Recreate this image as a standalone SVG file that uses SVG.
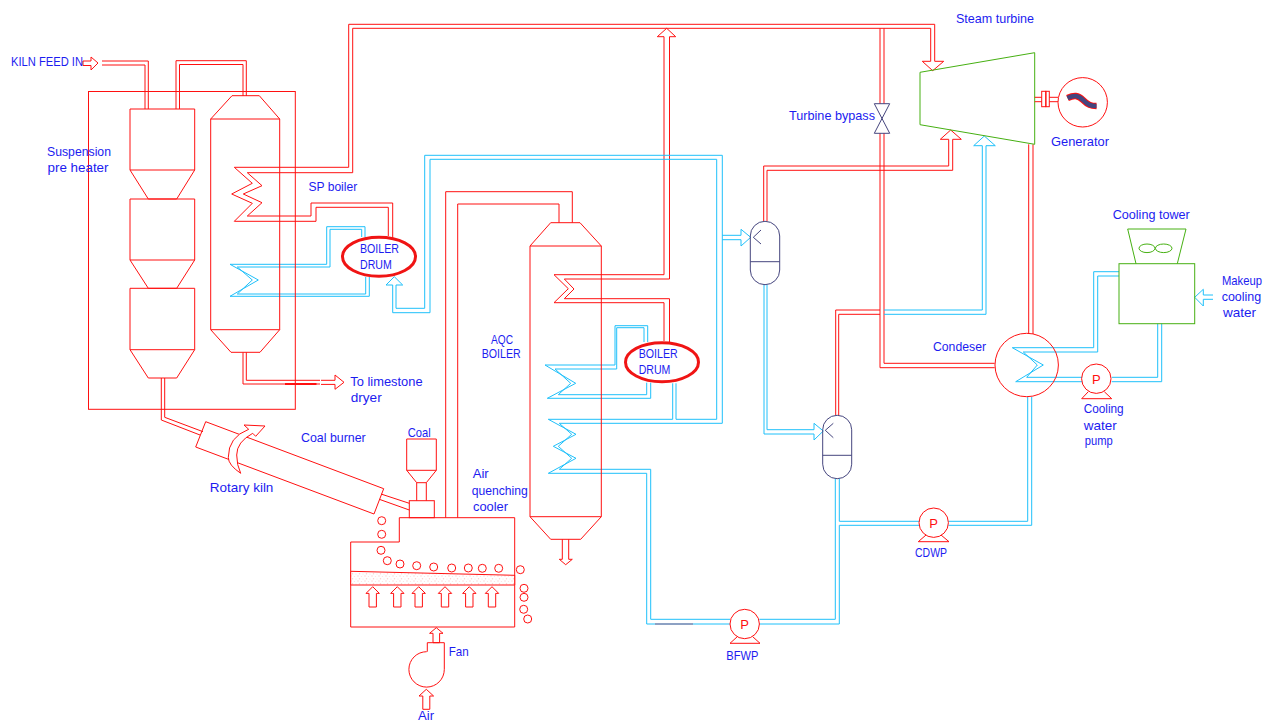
<svg xmlns="http://www.w3.org/2000/svg" width="1266" height="722" viewBox="0 0 1266 722">
<style>
.r,.b,.g,.n{fill:none;stroke-width:1;stroke-linejoin:miter}
.r{stroke:#ff1010}.b{stroke:#1fc0fa}.g{stroke:#46b012}.n{stroke:#45457e}
text{font-family:"Liberation Sans",Arial,sans-serif;font-size:13px;fill:#1c1cf0;stroke:none}
text.p{fill:#ff1010;font-size:13px;text-anchor:middle}
</style>
<defs>
<pattern id="speck" width="7" height="5" patternUnits="userSpaceOnUse">
<rect width="7" height="5" fill="#fff"/>
<circle cx="1" cy="1" r=".7" fill="#fdd0d0"/><circle cx="4.5" cy="1.5" r=".6" fill="#fee0e0"/><circle cx="2.5" cy="3.8" r=".7" fill="#fdd0d0"/><circle cx="6" cy="4" r=".6" fill="#fee0e0"/>
</pattern>
<path id="up" d="M0,0 L6.7,6.7 H3.7 V20.3 H-3.7 V6.7 H-6.7 Z"/>
<circle id="ball" r="4"/>
</defs>
<rect width="1266" height="722" fill="#fff"/>
<g id="connectors">
<g class="r">
<path d="M102,61 H148.3 V109"/><path d="M102,65 H145 V109"/>
<path d="M176,109 V60.7 H246.3 V96"/><path d="M179.5,109 V64.5 H243 V96"/>
<path d="M348.7,167.3 V24.3 H934.7 V61.3"/>
<path d="M352.7,172.7 V28.3 H930.7 V61.3"/>
<path d="M348.7,167.3 H234.3 L252.3,183.3 L231.7,194 L252.3,203.3 L234.3,221.3 H316 V207.3 H388.3 V236"/>
<path d="M352.7,172.7 H247.3 L262,185.7 L243.3,194 L262,202.7 L247.3,216 H311 V203 H392.7 V238"/>
<path d="M664,36.7 V274.7 H554 L568.3,288.7 L554,302.7 H664 V341"/>
<path d="M669.5,36.7 V279 H564.3 L574,289 L564.3,298.7 H669.5 V342"/>
<path d="M445.7,517.7 V191.7 H572.3 V222.7"/><path d="M457.7,517.7 V204 H559 V222.7"/>
<path d="M243,352.3 V384 H285"/><path d="M246.3,352.3 V380.3 H320"/><path d="M316.7,384 H320"/>
<path d="M285,384 H316.7" stroke-width="2"/>
<path d="M161.3,378 V420 L200,435"/><path d="M164.7,378 V417.3 L203,431.7"/>
<path d="M381,494 L409.3,503.3"/><path d="M379.3,499.3 L409.3,510"/>
<path d="M763.7,221.3 V166 H948.7 V139.3"/><path d="M767,221.3 V170.3 H952.7 V139.3"/>
<path d="M880,28.3 V103.7"/><path d="M884,28.3 V103.7"/>
<path d="M880,133.3 V367.7 H994.7"/><path d="M884,133.3 V363.3 H994.7"/>
<path d="M835.7,415.3 V310 H880"/><path d="M838.7,415.3 V314.3 H880"/>
<path d="M1028.7,144.3 V334"/><path d="M1033,144.3 V334"/>
</g>
<g class="b">
<path d="M230,264.3 H326.7 V226.7 H365 V237"/><path d="M237.3,267 H330 V229.3 H361.7 V237"/>
<path d="M230,264.3 L258.3,280 L230,296.3 H369.3 V277"/><path d="M237.3,267 L252.3,280 L237.3,294 H365.7 V277"/>
<path d="M676,383.3 V419.3 H716.7 V159.3 H430 V312.7 H392.7 V285"/>
<path d="M672.7,383.3 V419.3 H548.3 L576,434.3 L553.3,446.3 L576,458.3 L548.3,473.3 H646.7 V624 H730"/>
<path d="M559.3,423.3 H722.3 V155.3 H424.7 V308.3 H396 V285"/>
<path d="M559.3,423.3 L571.7,434.3 L558.3,446.3 L571.7,458.3 L559.3,469.3 H650.7 V619.3 H730"/>
<path d="M545,365 H615 V325.7 H647.7 V342"/><path d="M555,369 H616.7 V327.7 H644 V342"/>
<path d="M545,365 L575.7,383.3 L547.3,398.3 H650.7 V382.7"/><path d="M555,369 L570.7,383.3 L558.3,394.7 H646.7 V382.7"/>
<path d="M722.3,235.3 H741"/><path d="M722.3,239.7 H741"/>
<path d="M764,284.7 V434 H814"/><path d="M767,284.7 V429.7 H814"/>
<path d="M884,310 H982.3 V145.7"/><path d="M884,314.3 H986 V145.7"/>
<path d="M759.4,619.3 H835.3 V478.7"/><path d="M759.4,624 H839.3 V525.3 H919"/>
<path d="M839.3,478.7 V521.3 H919.5"/>
<path d="M948.4,521.3 H1027.7 V397"/><path d="M948.4,525.3 H1031.7 V397"/>
<path d="M1012.3,347.7 L1043.3,365 L1015.7,381.7 H1082"/><path d="M1023.3,352 L1037.3,365 L1026.7,377.3 H1082"/>
<path d="M1012.3,347.7 H1093.7 V271.7 H1119"/><path d="M1023.3,352 H1097.7 V276 H1119"/>
<path d="M1111.7,377.3 H1157.7 V323.7"/><path d="M1111.7,381.7 H1161.7 V323.7"/>
<path d="M1203.3,295 H1213"/><path d="M1203.3,299.3 H1213"/>
<path d="M655,624 H693" stroke="#8c8cb0" stroke-width="1.5"/>
</g>
<g id="arrowheads">
<path class="r" d="M83,61 H91 V57 L98,63 L91,70 V65.5 H83 Z"/>
<path class="r" d="M664,36.7 H657.3 L666.7,28.3 L675.7,36.7 H669.5"/>
<path class="r" d="M930.7,61.3 H922.3 L932.7,70.7 L943.7,61.3 H934.7"/>
<path class="r" d="M948.7,139.3 H940.3 L950.7,130 L961.3,139.3 H952.7"/>
<path class="r" d="M321,380.3 H335 V375 L344,382.3 L335,389.3 V384.4 H321"/>
<path class="r" d="M562.3,539.3 V559.3 H559.3 L565.7,564.7 L572.3,559.3 H568.7 V539.3"/>
<path class="b" d="M392.7,285 H386 L394.3,276.7 L402.7,285 H396"/>
<path class="b" d="M741,235.3 V229.3 L750.7,237.3 L741,246 V239.7"/>
<path class="b" d="M814,429.7 V423.3 L823.3,431 L814,440 V434"/>
<path class="b" d="M982.3,145.7 H973.7 L984.3,136 L995.3,145.7 H986"/>
<path class="b" d="M1203.3,295 V289.3 L1194.7,297.3 L1203.3,306 V299.3"/>
</g>
</g>
<g id="suspension-preheater-frame"><rect class="r" x="88.5" y="91.5" width="206.8" height="317.8"/></g>
<g id="preheater-cyclones" class="r">
<path d="M130,109 H194.7 V170 L176.7,199 H148.3 L130,170 Z M130,170 H194.7"/>
<path d="M130,199 H194.7 V260 L176.7,288.3 H148.3 L130,260 Z M130,260 H194.7"/>
<path d="M130,288.3 H194.7 V349.7 L176.7,378 H148.3 L130,349.7 Z M130,349.7 H194.7"/>
</g>
<g id="sp-boiler" class="r"><path d="M210.7,119 L232,95.7 H259.3 L279.7,119 V329.7 L260,352.3 H231 L210.7,329.7 Z M210.7,119 H279.7 M210.7,329.7 H279.7"/></g>
<g id="boiler-drum-1"><ellipse cx="379" cy="256.7" rx="36.5" ry="19.5" fill="none" stroke="#f01414" stroke-width="3"/></g>
<g id="aqc-boiler" class="r"><path d="M530,246 L550.7,222.7 H580 L601.3,246 V516.7 L580.7,539.3 H550.7 L530,516.7 Z M530,246 H601.3 M530,516.7 H601.3"/></g>
<g id="boiler-drum-2"><ellipse cx="662" cy="362.2" rx="36.5" ry="19.5" fill="none" stroke="#f01414" stroke-width="3"/></g>
<g id="rotary-kiln" class="r">
<path d="M205.7,421.7 L383.7,488.7 L374,514 L195.7,447 Z"/>
<path d="M244,425 L265,426 L255.7,436.3 L252.7,433.3 Q236.7,442 236.7,455 Q236.7,465 240.7,473.3 Q228.3,465 228.3,457.3 Q228.3,437 248.7,429.3 Z" style="fill:#fff"/>
</g>
<g id="coal-hopper" class="r"><path d="M406.7,439 H436.3 V470.3 L426.3,482.7 H416.7 L406.7,470.3 Z M406.7,470.3 H436.3 M416.7,482.7 V500.7 M426.3,482.7 V500.7"/><rect x="409.3" y="500.7" width="25" height="17"/></g>
<g id="cooler" class="r">
<path d="M350.7,542 H399.3 V517.7 H514.7 V627 H350.7 Z"/>
<path d="M350.7,571.3 L514.7,575.3 V585 H350.7 Z" style="fill:url(#speck)"/>
<use href="#ball" x="381.7" y="520.7"/><use href="#ball" x="381.7" y="534.3"/><use href="#ball" x="381" y="550.3"/><use href="#ball" x="387.3" y="560.7"/><use href="#ball" x="400" y="564"/><use href="#ball" x="416.7" y="565.7"/><use href="#ball" x="433.7" y="567"/><use href="#ball" x="451.7" y="568"/><use href="#ball" x="468.3" y="568"/><use href="#ball" x="482.3" y="568.3"/><use href="#ball" x="498.7" y="568.3"/><use href="#ball" x="520.3" y="569.7"/><use href="#ball" x="524" y="588.3"/><use href="#ball" x="524" y="597.3"/><use href="#ball" x="523.7" y="609.3"/><use href="#ball" x="527.7" y="619"/>
<use href="#up" x="372.7" y="586.7"/><use href="#up" x="397.3" y="586.7"/><use href="#up" x="418.7" y="586.7"/><use href="#up" x="445" y="586.7"/><use href="#up" x="469.3" y="586.7"/><use href="#up" x="492" y="586.7"/>
</g>
<g id="fan" class="r">
<path d="M436.3,627.7 L443,633.3 H439.6 V642.7 H433 V633.3 H429.6 Z"/>
<path d="M427.3,651.7 V642.7 H444.3 V669.3 A17.7,17.7 0 1 1 426.7,651.7"/>
<path d="M426.3,689.3 L433.6,696 H429.8 V709.3 H422.8 V696 H419 Z"/>
</g>
<g id="steam-turbine"><path class="g" d="M920,72.3 L1034.7,52.7 V144.3 L920,124.7 Z"/></g>
<g id="turbine-bypass"><path class="n" d="M874.3,103.7 H889.7 L874.3,133.3 H889.7 Z"/></g>
<g id="generator">
<path class="r" d="M1034.7,97.3 H1041.7 M1034.7,101.7 H1041.7 M1049.3,97.3 H1058 M1049.3,101.7 H1058"/>
<rect class="r" x="1041.7" y="91.3" width="4" height="15.4"/><rect class="r" x="1046" y="91.3" width="3.3" height="15.4"/>
<circle class="r" cx="1082.7" cy="102.3" r="24.7"/>
<path d="M1067.5,98 C1074,95 1078,95 1083,100 C1088,105 1091,106 1096.5,106" fill="none" stroke="#ff1010" stroke-width="6.5"/>
<path d="M1067.5,98 C1074,95 1078,95 1083,100 C1088,105 1091,106 1096.5,106" fill="none" stroke="#45457e" stroke-width="4.5"/>
</g>
<g id="deaerator-1" class="n"><rect x="750.3" y="221.3" width="29.4" height="63.4" rx="14.7"/><path d="M750.3,261.7 H779.7 M761,230 L753.3,237.3 L761,244"/></g>
<g id="deaerator-2" class="n"><rect x="822.7" y="415.3" width="29" height="63.4" rx="14.5"/><path d="M822.7,455.3 H851.7 M833.3,423.3 L825.3,430.3 L833.3,437.7"/></g>
<g id="condenser"><circle class="r" cx="1026.7" cy="365" r="31.7"/></g>
<g id="cooling-water-pump" class="r"><circle cx="1096.3" cy="378.7" r="14.7"/><path d="M1088.3,391.7 L1081.7,398.7 H1111.7 L1104.3,391.7"/><text class="p" x="1096.3" y="383.5">P</text></g>
<g id="cdwp" class="r"><circle cx="933.7" cy="522.7" r="14.7"/><path d="M926,535 L918.3,541.7 H949 L941,535"/><text class="p" x="933.7" y="527.5">P</text></g>
<g id="bfwp" class="r"><circle cx="744.7" cy="624" r="14.7"/><path d="M737.3,636.7 L730,643.3 H760 L752.7,636.7"/><text class="p" x="744.7" y="628.8">P</text></g>
<g id="cooling-tower" class="g"><rect x="1119" y="263.7" width="75.7" height="60"/><path d="M1136,263.7 L1127.7,229 H1186 L1177.3,263.7"/><ellipse cx="1147" cy="248.3" rx="8" ry="4.3"/><ellipse cx="1163.7" cy="248.3" rx="8.3" ry="4.3"/></g>
<g id="labels">
<text x="11" y="65.5" textLength="72" lengthAdjust="spacingAndGlyphs">KILN FEED IN</text>
<text x="47" y="156" textLength="64" lengthAdjust="spacingAndGlyphs">Suspension</text>
<text x="47.5" y="172.3" textLength="61" lengthAdjust="spacingAndGlyphs">pre heater</text>
<text x="308.5" y="191" textLength="48.7" lengthAdjust="spacingAndGlyphs">SP boiler</text>
<text x="360" y="252.7" textLength="39" lengthAdjust="spacingAndGlyphs">BOILER</text>
<text x="360" y="268.7" textLength="31.7" lengthAdjust="spacingAndGlyphs">DRUM</text>
<text x="638.7" y="358" textLength="39" lengthAdjust="spacingAndGlyphs">BOILER</text>
<text x="638.7" y="373.7" textLength="31.7" lengthAdjust="spacingAndGlyphs">DRUM</text>
<text x="491" y="344" textLength="22" lengthAdjust="spacingAndGlyphs">AQC</text>
<text x="481.7" y="358" textLength="39" lengthAdjust="spacingAndGlyphs">BOILER</text>
<text x="350.3" y="386" textLength="72.3" lengthAdjust="spacingAndGlyphs">To limestone</text>
<text x="350.7" y="401.7" textLength="31" lengthAdjust="spacingAndGlyphs">dryer</text>
<text x="301" y="441.7" textLength="64.7" lengthAdjust="spacingAndGlyphs">Coal burner</text>
<text x="407.7" y="437" textLength="23" lengthAdjust="spacingAndGlyphs">Coal</text>
<text x="209.7" y="492" textLength="63.7" lengthAdjust="spacingAndGlyphs">Rotary kiln</text>
<text x="472.7" y="478" textLength="16" lengthAdjust="spacingAndGlyphs">Air</text>
<text x="471.7" y="494.7" textLength="56" lengthAdjust="spacingAndGlyphs">quenching</text>
<text x="473" y="510.7" textLength="35" lengthAdjust="spacingAndGlyphs">cooler</text>
<text x="448.7" y="655.7" textLength="20" lengthAdjust="spacingAndGlyphs">Fan</text>
<text x="418" y="720" textLength="16" lengthAdjust="spacingAndGlyphs">Air</text>
<text x="956" y="23.3" textLength="78" lengthAdjust="spacingAndGlyphs">Steam turbine</text>
<text x="789" y="120" textLength="86" lengthAdjust="spacingAndGlyphs">Turbine bypass</text>
<text x="1051" y="146" textLength="58" lengthAdjust="spacingAndGlyphs">Generator</text>
<text x="1112.7" y="219" textLength="77" lengthAdjust="spacingAndGlyphs">Cooling tower</text>
<text x="1222" y="285.3" textLength="40" lengthAdjust="spacingAndGlyphs">Makeup</text>
<text x="1221.7" y="301.3" textLength="39.5" lengthAdjust="spacingAndGlyphs">cooling</text>
<text x="1223" y="317.3" textLength="33" lengthAdjust="spacingAndGlyphs">water</text>
<text x="933" y="350.7" textLength="53" lengthAdjust="spacingAndGlyphs">Condeser</text>
<text x="1083.7" y="413.3" textLength="40" lengthAdjust="spacingAndGlyphs">Cooling</text>
<text x="1083.7" y="429.7" textLength="33" lengthAdjust="spacingAndGlyphs">water</text>
<text x="1084.7" y="444.5" textLength="28" lengthAdjust="spacingAndGlyphs">pump</text>
<text x="915" y="556.7" textLength="32" lengthAdjust="spacingAndGlyphs">CDWP</text>
<text x="726.3" y="660" textLength="32" lengthAdjust="spacingAndGlyphs">BFWP</text>
</g>
</svg>
